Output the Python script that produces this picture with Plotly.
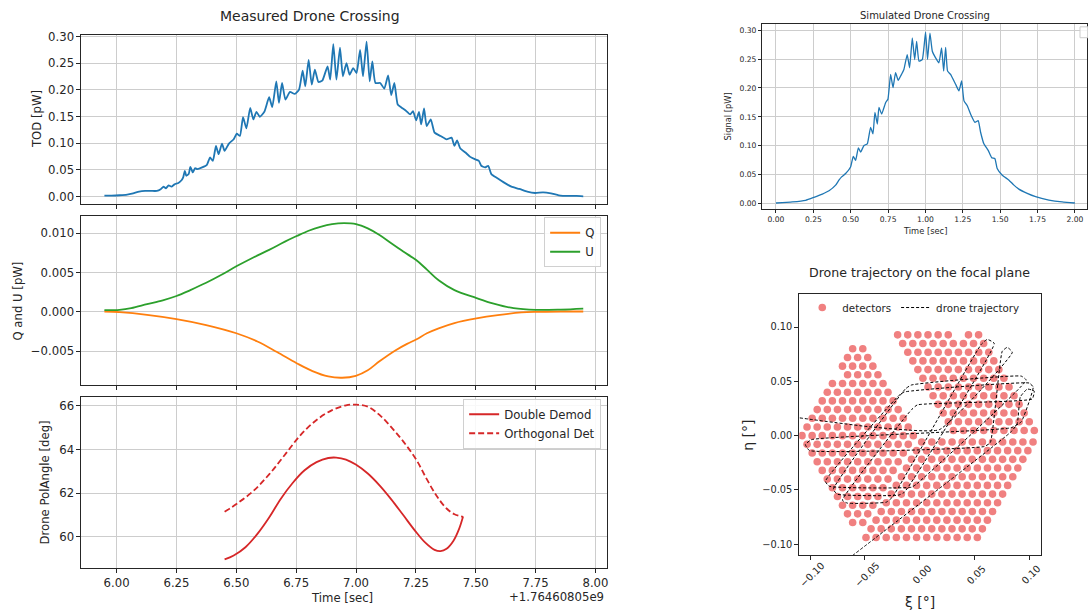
import plotly.graph_objects as go

W, H = 1088, 614
FONT = "DejaVu Sans"
TXT = "#262626"

# ---------------- data ----------------
# Measured drone crossing (time relative to 1.76460805e9 s)
tod_t = [5.949,5.979,6.012,6.044,6.069,6.094,6.119,6.143,6.168,6.184,6.196,6.206,6.217,6.229,6.242,6.258,6.272,6.278,6.285,6.291,6.301,6.308,6.318,6.328,6.337,6.357,6.377,6.390,6.402,6.415,6.426,6.440,6.451,6.469,6.489,6.502,6.515,6.528,6.542,6.558,6.571,6.584,6.598,6.617,6.637,6.650,6.667,6.678,6.691,6.705,6.724,6.744,6.762,6.777,6.788,6.802,6.815,6.828,6.843,6.859,6.881,6.892,6.905,6.918,6.933,6.945,6.960,6.973,6.988,7.002,7.017,7.029,7.044,7.057,7.068,7.081,7.101,7.118,7.134,7.147,7.160,7.174,7.188,7.207,7.226,7.238,7.251,7.263,7.272,7.284,7.295,7.312,7.328,7.353,7.378,7.399,7.411,7.422,7.435,7.457,7.477,7.496,7.513,7.523,7.539,7.552,7.565,7.589,7.617,7.649,7.682,7.715,7.748,7.781,7.814,7.847,7.888,7.921,7.949]
tod_v = [0.0019,0.0019,0.0025,0.0037,0.0062,0.0093,0.0106,0.0106,0.0106,0.0137,0.0186,0.0155,0.0211,0.0186,0.0230,0.0255,0.0311,0.0360,0.0484,0.0391,0.0422,0.0559,0.0453,0.0534,0.0516,0.0547,0.0596,0.0733,0.0671,0.0950,0.0795,0.0994,0.0857,0.0994,0.1075,0.1180,0.1137,0.1491,0.1280,0.1665,0.1447,0.1590,0.1497,0.1590,0.1863,0.1677,0.2161,0.1758,0.2130,0.1820,0.1963,0.1925,0.2006,0.2360,0.2068,0.2565,0.2099,0.2379,0.2149,0.2174,0.2441,0.2193,0.2857,0.2193,0.2795,0.2255,0.2503,0.2286,0.2410,0.2317,0.2752,0.2255,0.2907,0.2161,0.2534,0.2130,0.2130,0.2025,0.2273,0.1901,0.2130,0.1727,0.1677,0.1615,0.1540,0.1602,0.1429,0.1590,0.1354,0.1652,0.1323,0.1447,0.1199,0.1137,0.1075,0.1106,0.0950,0.1056,0.0907,0.0826,0.0745,0.0702,0.0671,0.0578,0.0547,0.0578,0.0422,0.0348,0.0267,0.0186,0.0143,0.0093,0.0068,0.0081,0.0062,0.0025,0.0012,0.0012,0.0006]

u_t = [5.949,6.012,6.061,6.127,6.193,6.250,6.308,6.374,6.440,6.500,6.571,6.637,6.703,6.752,6.802,6.851,6.900,6.950,7.000,7.049,7.098,7.147,7.197,7.251,7.296,7.345,7.411,7.503,7.575,7.658,7.751,7.855,7.949]
u_v = [0.00021,0.00025,0.00046,0.00097,0.00147,0.00202,0.00277,0.00370,0.00475,0.00580,0.00693,0.00790,0.00895,0.00966,0.01034,0.01084,0.01118,0.01130,0.01118,0.01063,0.00979,0.00874,0.00769,0.00660,0.00538,0.00403,0.00277,0.00176,0.00105,0.00046,0.00025,0.00029,0.00042]
q_t = [5.949,6.012,6.127,6.250,6.374,6.500,6.588,6.670,6.752,6.818,6.884,6.942,6.999,7.049,7.098,7.164,7.213,7.251,7.296,7.345,7.411,7.503,7.592,7.691,7.751,7.855,7.949]
q_v = [0.00004,-0.00004,-0.00038,-0.00092,-0.00168,-0.00273,-0.00378,-0.00513,-0.00655,-0.00756,-0.00824,-0.00840,-0.00815,-0.00744,-0.00630,-0.00492,-0.00408,-0.00353,-0.00273,-0.00210,-0.00143,-0.00084,-0.00042,-0.00008,0.0,0.00004,0.00004]

dd_t = [6.451,6.489,6.538,6.588,6.637,6.686,6.736,6.785,6.835,6.884,6.917,6.958,6.999,7.049,7.098,7.147,7.197,7.246,7.287,7.328,7.353,7.378,7.407,7.430,7.447]
dd_v = [58.97,59.15,59.53,60.14,60.89,61.75,62.48,63.05,63.42,63.61,63.63,63.54,63.31,62.90,62.36,61.72,61.00,60.29,59.76,59.41,59.35,59.46,59.83,60.36,60.94]
od_t = [6.451,6.505,6.571,6.637,6.703,6.769,6.835,6.900,6.958,6.999,7.049,7.098,7.147,7.197,7.251,7.296,7.337,7.378,7.411,7.447]
od_v = [61.15,61.54,62.10,62.86,63.76,64.67,65.35,65.80,66.02,66.05,65.96,65.58,65.02,64.37,63.54,62.63,61.87,61.30,61.04,60.92]

# Simulated drone crossing
sim_t = [0.000,0.109,0.198,0.254,0.310,0.355,0.399,0.421,0.439,0.466,0.499,0.517,0.533,0.551,0.566,0.589,0.611,0.633,0.649,0.662,0.678,0.689,0.707,0.734,0.749,0.767,0.783,0.800,0.818,0.834,0.856,0.878,0.894,0.912,0.928,0.941,0.957,0.979,1.001,1.014,1.030,1.046,1.068,1.090,1.108,1.122,1.135,1.148,1.168,1.202,1.224,1.242,1.258,1.280,1.302,1.331,1.353,1.369,1.391,1.420,1.443,1.465,1.480,1.514,1.559,1.592,1.625,1.681,1.737,1.826,1.915,2.000]
sim_v = [0.0011,0.0029,0.0057,0.0109,0.0166,0.0223,0.0320,0.0406,0.0463,0.0520,0.0634,0.0817,0.0749,0.0966,0.0891,0.1006,0.1034,0.1320,0.1206,0.1577,0.1377,0.1663,0.1549,0.1749,0.1806,0.2234,0.2006,0.2263,0.2131,0.2206,0.2320,0.2577,0.2349,0.2863,0.2491,0.2806,0.2463,0.2491,0.2966,0.2491,0.2949,0.2634,0.2520,0.2434,0.2691,0.2291,0.2703,0.2291,0.2234,0.2063,0.1949,0.2120,0.1777,0.1691,0.1549,0.1406,0.1434,0.1234,0.1034,0.0920,0.0794,0.0777,0.0606,0.0491,0.0406,0.0320,0.0251,0.0177,0.0120,0.0063,0.0029,0.0011]

# Focal plane detectors: three wafers described row by row (eta of row, xi of first detector, count)
det_pitch = 0.00925
left_eta = [0.080,0.072,0.064,0.056,0.048,0.040,0.032,0.024,0.016,0.008,0.000,-0.008,-0.016,-0.024,-0.032,-0.040,-0.048,-0.056,-0.064,-0.072,-0.080]
left_xi0 = [-0.0612,-0.0659,-0.0705,-0.0751,-0.0797,-0.0844,-0.0890,-0.0936,-0.0982,-0.1029,-0.1075,-0.1029,-0.0982,-0.0936,-0.0890,-0.0844,-0.0797,-0.0751,-0.0705,-0.0659,-0.0612]
left_n = [2,3,4,5,6,7,8,9,10,11,12,11,10,9,8,7,6,5,4,3,2]
right_eta = [0.0928,0.0848,0.0768,0.0688,0.0608,0.0528,0.0448,0.0368,0.0288,0.0208,0.0128,0.0048]
right_xi0 = [-0.0201,-0.0155,-0.0108,-0.0062,-0.0016,0.0030,0.0077,0.0123,0.0169,0.0215,0.0262,0.0308]
right_n = [9,9,9,9,9,9,9,9,9,9,9,9]
bottom_eta = [-0.0938,-0.0858,-0.0778,-0.0698,-0.0618,-0.0538,-0.0458,-0.0378,-0.0298,-0.0218,-0.0138,-0.0058]
bottom_xi0 = [-0.0490,-0.0444,-0.0398,-0.0351,-0.0305,-0.0259,-0.0213,-0.0166,-0.0120,-0.0074,-0.0028,0.0019]
bottom_n = [12,12,12,12,12,12,12,12,12,12,12,12]
det_missing = [("right", 0, 6), ("left", 3, 0)]

# Drone trajectory on the focal plane (deg)
traj_xi = [-0.0615,0.0837,0.0892,0.0920,0.0984,0.1047,0.1029,-0.0021,-0.0076,-0.0706,-0.0660,-0.0304,-0.0249,0.0563,0.0618,0.0682,-0.0140,-0.0195,-0.0752,-0.0788,-0.0131,-0.0076,0.0929,0.0974,-0.0030,-0.0076,-0.0825,-0.0861,-0.0185,-0.0140,0.1002,0.1038,0.0929,0.0837,-0.0989,-0.1044,-0.1007,0.0591,0.0646,0.0755,0.0801,0.0847,0.0180,-0.0459,-0.1099]
traj_eta = [-0.1105,0.0037,0.0110,0.0356,0.0429,0.0411,0.0338,0.0283,0.0237,-0.0594,-0.0621,-0.0612,-0.0566,0.0840,0.0886,0.0849,-0.0521,-0.0548,-0.0539,-0.0493,0.0429,0.0466,0.0548,0.0511,-0.0447,-0.0475,-0.0466,-0.0420,0.0374,0.0402,0.0484,0.0447,0.0128,0.0073,-0.0037,-0.0082,-0.0137,-0.0100,-0.0064,0.0776,0.0813,0.0767,0.0055,0.0082,0.0164]

time_ticks = [6.00,6.25,6.50,6.75,7.00,7.25,7.50,7.75,8.00]
sim_ticks = [0.00,0.25,0.50,0.75,1.00,1.25,1.50,1.75,2.00]
tod_ticks = [0.00,0.05,0.10,0.15,0.20,0.25,0.30]
qu_ticks = [-0.005,0.000,0.005,0.010]
pa_ticks = [60,62,64,66]
fp_ticks = [-0.10,-0.05,0.00,0.05,0.10]

# ---------------- helpers ----------------
def fx(px):
    return px / W

def fy(py):
    return 1 - py / H

def fmt(v, nd):
    s = f"{v:.{nd}f}"
    return s.replace("-", "\u2212")

def axis(domain, rng, anchor, size, grid=True, **kw):
    d = dict(domain=domain, range=rng, anchor=anchor, showline=True, mirror=True,
             linecolor=TXT, linewidth=1, ticks="outside", ticklen=4, tickwidth=1,
             tickcolor=TXT, showgrid=grid, gridcolor="#cdcdcd", gridwidth=1,
             zeroline=False, tickfont=dict(size=size, color=TXT, family=FONT))
    d.update(kw)
    return d

fig = go.Figure()

# Left panels
fig.add_trace(go.Scatter(x=tod_t, y=tod_v, mode="lines",
                         line=dict(color="#1f77b4", width=1.8, shape="spline", smoothing=0.5),
                         showlegend=False, xaxis="x", yaxis="y"))
fig.add_trace(go.Scatter(x=q_t, y=q_v, mode="lines", line=dict(color="#ff7f0e", width=1.8, shape="spline"),
                         name="Q", legend="legend", xaxis="x2", yaxis="y2"))
fig.add_trace(go.Scatter(x=u_t, y=u_v, mode="lines", line=dict(color="#2ca02c", width=1.8, shape="spline"),
                         name="U", legend="legend", xaxis="x2", yaxis="y2"))
fig.add_trace(go.Scatter(x=dd_t, y=dd_v, mode="lines", line=dict(color="#d62728", width=1.8, shape="spline"),
                         name="Double Demod", legend="legend2", xaxis="x3", yaxis="y3"))
fig.add_trace(go.Scatter(x=od_t, y=od_v, mode="lines", line=dict(color="#d62728", width=1.8, shape="spline", dash="6px,3px"),
                         name="Orthogonal Det", legend="legend2", xaxis="x3", yaxis="y3"))

# Simulated
fig.add_trace(go.Scatter(x=sim_t, y=sim_v, mode="lines",
                         line=dict(color="#1f77b4", width=1.3, shape="spline", smoothing=0.4),
                         showlegend=False, xaxis="x4", yaxis="y4"))

# Focal plane
wafers = {"left": (left_eta, left_xi0, left_n), "right": (right_eta, right_xi0, right_n),
          "bottom": (bottom_eta, bottom_xi0, bottom_n)}
det_xi, det_eta = [], []
for name, (etas, xi0s, ns) in wafers.items():
    for r, (e, x0, n) in enumerate(zip(etas, xi0s, ns)):
        for i in range(n):
            if (name, r, i) in det_missing:
                continue
            det_xi.append(x0 + i * det_pitch)
            det_eta.append(e)
fig.add_trace(go.Scatter(x=det_xi, y=det_eta, mode="markers", marker=dict(size=7.6, color="#f08080"),
                         name="detectors", legend="legend3", xaxis="x5", yaxis="y5"))
fig.add_trace(go.Scatter(x=traj_xi, y=traj_eta, mode="lines",
                         line=dict(color="black", width=1, dash="3px,2px", shape="spline", smoothing=0.4),
                         name="drone trajectory", legend="legend3", xaxis="x5", yaxis="y5"))

LX = [fx(81.5), fx(608)]
xr = [5.853, 8.05]
time_txt = [fmt(v, 2) for v in time_ticks]

layout = dict(
    width=W, height=H, margin=dict(l=0, r=0, t=0, b=0),
    paper_bgcolor="white", plot_bgcolor="white",
    font=dict(family=FONT, color=TXT),
    xaxis=axis(LX, xr, "y", 11.7, tickvals=time_ticks, ticktext=time_txt, showticklabels=False),
    yaxis=axis([fy(200.7), fy(30)], [-0.0140, 0.3035], "x", 11.7, tickvals=tod_ticks,
               ticktext=[fmt(v, 2) for v in tod_ticks]),
    xaxis2=axis(LX, xr, "y2", 11.7, tickvals=time_ticks, ticktext=time_txt, showticklabels=False),
    yaxis2=axis([fy(383.3), fy(212.7)], [-0.00935, 0.01222], "x2", 11.7, tickvals=qu_ticks,
                ticktext=[fmt(v, 3) for v in qu_ticks]),
    xaxis3=axis(LX, xr, "y3", 11.7, tickvals=time_ticks, ticktext=time_txt),
    yaxis3=axis([fy(567.3), fy(395.7)], [58.594, 66.378], "x3", 11.7, tickvals=pa_ticks,
                ticktext=[str(v) for v in pa_ticks]),
    xaxis4=axis([fx(762.7), 1.0], [-0.0936, 2.081], "y4", 7.6, tickvals=sim_ticks,
                ticktext=[fmt(v, 2) for v in sim_ticks], ticklen=3),
    yaxis4=axis([fy(206), fy(19.3)], [-0.0098, 0.3103], "x4", 7.6, tickvals=tod_ticks,
                ticktext=[fmt(v, 2) for v in tod_ticks], ticklen=3),
    xaxis5=axis([fx(800), fx(1041.7)], [-0.1100, 0.1107], "y5", 9.8, grid=False,
                tickvals=fp_ticks, showticklabels=False),
    yaxis5=axis([fy(555), fy(291.7)], [-0.1103, 0.1301], "x5", 9.8, grid=False,
                tickvals=fp_ticks, ticktext=[fmt(v, 2) for v in fp_ticks]),
    legend=dict(x=fx(601.7), y=fy(214), xanchor="right", yanchor="top",
                bgcolor="rgba(255,255,255,0.85)", bordercolor="#d0d0d0", borderwidth=1,
                font=dict(size=11.7, family=FONT, color=TXT), tracegroupgap=0),
    legend2=dict(x=fx(601.7), y=fy(397), xanchor="right", yanchor="top",
                 bgcolor="rgba(255,255,255,0.85)", bordercolor="#d0d0d0", borderwidth=1,
                 font=dict(size=11.7, family=FONT, color=TXT)),
    legend3=dict(x=fx(803), y=fy(305), xanchor="left", yanchor="middle", orientation="h",
                 bgcolor="rgba(0,0,0,0)", borderwidth=0,
                 font=dict(size=10.3, family=FONT, color=TXT)),
)
fig.update_layout(**layout)

def ann(text, px, py, size, angle=0, xanchor="center", yanchor="middle"):
    fig.add_annotation(text=text, x=fx(px), y=fy(py), xref="paper", yref="paper",
                       showarrow=False, textangle=angle, xanchor=xanchor, yanchor=yanchor,
                       font=dict(size=size, family=FONT, color=TXT))

# Left column texts
ann("Measured Drone Crossing", 310, 11.5, 14)
ann("TOD [pW]", 37, 115, 11.7, angle=-90)
ann("Q and U [pW]", 18, 298, 11.7, angle=-90)
ann("Drone PolAngle [deg]", 45.5, 481, 11.7, angle=-90)
ann("Time [sec]", 342, 597.5, 11.7)
ann("+1.76460805e9", 607, 596.5, 11.7, xanchor="right")

# Simulated texts
ann("Simulated Drone Crossing", 926, 10.7, 10)
ann("Signal [pW]", 729, 112, 8.3, angle=-90)
ann("Time [sec]", 926, 227.5, 8.3)

# Focal plane texts
ann("Drone trajectory on the focal plane", 920.5, 270, 12.6)
ann("\u03be [\u00b0]", 920.5, 601.5, 14)
ann("\u03b7 [\u00b0]", 749, 434, 14, angle=-90)
for v in fp_ticks:
    fig.add_annotation(text=fmt(v, 2), x=v, y=fy(574), xref="x5", yref="paper", showarrow=False,
                       textangle=-45, xanchor="center", yanchor="middle", xshift=2,
                       font=dict(size=9.8, family=FONT, color=TXT))

# Empty legend box of the simulated panel (partly outside the figure)
fig.add_shape(type="rect", xref="paper", yref="paper", x0=fx(1081), x1=fx(1094), y0=fy(33), y1=fy(22),
              line=dict(color="#cccccc", width=1), fillcolor="rgba(255,255,255,0.8)")

fig.write_html("out.html", config={"displayModeBar": False},
               post_script="document.body.style.margin='0';document.body.style.padding='0';"
                           "document.body.style.overflow='hidden';")
